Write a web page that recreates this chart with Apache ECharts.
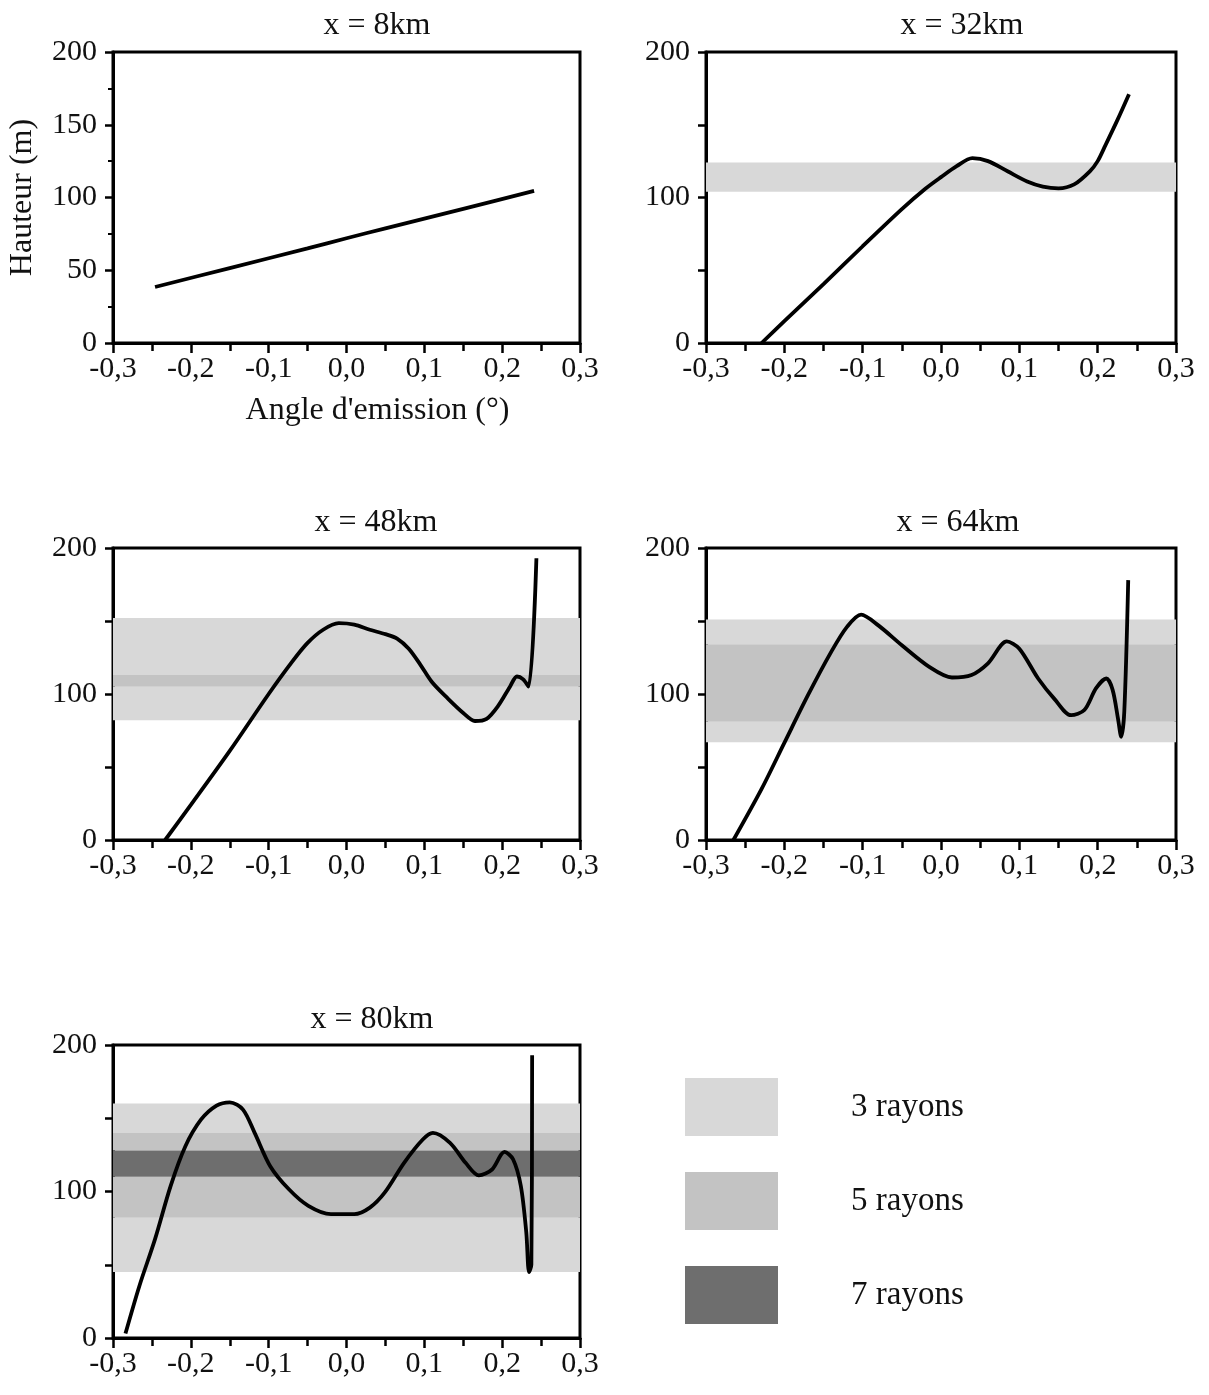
<!DOCTYPE html>
<html>
<head>
<meta charset="utf-8">
<script src="https://cdn.jsdelivr.net/npm/echarts@6/dist/echarts.min.js"></script>
<style>
html,body{margin:0;padding:0;background:#fff;}
#chart{width:1209px;height:1395px;}
</style>
</head>
<body>
<div id="chart"></div>
<script>
// ---- Data ----
const panelTitles = ['x = 8km', 'x = 32km', 'x = 48km', 'x = 64km', 'x = 80km'];
const xAxisName = "Angle d'emission (°)";
const yAxisName = 'Hauteur (m)';
const bandNames = ['3 rayons', '5 rayons', '7 rayons'];

// curves: [angle (°), height (m)]
const curve8km = [[-0.246,38.5],[-0.15,51.5],[-0.05,65],[0,72],[0.05,78.8],[0.15,92.2],[0.241,104.5]];
const curve32km = [[-0.229,0],[-0.2,15],[-0.15,40.5],[-0.1,66.5],[-0.05,92],[-0.02,106],[0,114],[0.02,121.5],[0.04,127],[0.06,125],[0.085,118],[0.11,111],[0.13,107.5],[0.15,106.3],[0.17,109],[0.19,118],[0.2,125],[0.21,136],[0.225,153],[0.24,171]];
const curve48km = [[-0.233,0],[-0.2,24],[-0.15,61],[-0.1,100],[-0.07,122],[-0.05,135],[-0.03,144],[-0.01,148.5],[0.01,147.5],[0.03,144],[0.05,141],[0.065,138],[0.08,131],[0.095,120],[0.11,108],[0.13,97],[0.15,87],[0.165,81.5],[0.18,83],[0.195,92],[0.21,105],[0.219,112],[0.227,110],[0.234,105],[0.244,193]];
const curve64km = [[-0.265,0],[-0.229,35],[-0.2,66.5],[-0.17,99],[-0.14,129],[-0.12,146],[-0.102,154.4],[-0.08,147],[-0.05,133.4],[-0.015,118.6],[0.014,111.3],[0.039,113],[0.06,121],[0.084,136],[0.1,131],[0.124,110.6],[0.145,96.5],[0.166,85.5],[0.183,89],[0.198,104],[0.211,110.6],[0.219,103],[0.226,83],[0.23,70.7],[0.234,88],[0.239,178]];
const curve80km = [[-0.284,3],[-0.266,35.7],[-0.246,67.5],[-0.226,103.7],[-0.207,130.9],[-0.187,149],[-0.167,158.6],[-0.15,160.9],[-0.133,155.9],[-0.118,140],[-0.098,117.3],[-0.074,101.5],[-0.049,90.2],[-0.02,84.5],[0.01,84.5],[0.03,89],[0.049,99.2],[0.074,119.6],[0.098,135.5],[0.111,140],[0.133,133.2],[0.153,119.6],[0.17,111],[0.187,115],[0.203,127],[0.214,122],[0.224,103.7],[0.231,72],[0.2345,45],[0.2375,50],[0.2385,193]];

// height bands [low, high] per panel, by number of rays
const bands3 = [[], [[104,124]], [[82,105],[113,152]], [[67,81],[134,151]], [[45,82],[140,160]]];
const bands5 = [[], [], [[105,113]], [[81,134]], [[82,110],[128,140]]];
const bands7 = [[], [], [], [], [[110,128]]];

// ---- Layout / styles ----
const curves = [curve8km, curve32km, curve48km, curve64km, curve80km];
const bandSets = [bands3, bands5, bands7];
const bandColors = ['#d8d8d8', '#c3c3c3', '#6e6e6e'];
const grids = [
  {left:113, top:52, width:467, height:291},
  {left:706, top:52, width:470, height:291},
  {left:113, top:548, width:467, height:292},
  {left:706, top:548, width:470, height:292},
  {left:113, top:1045, width:467, height:293}
];
const titlePos = [[372,5],[957,5],[371,502],[953,502],[367,999]];
const FONT = '"Liberation Serif", "Times New Roman", serif';

const fmtX = v => { if (Math.abs(v) < 1e-9) return '0,0'; return v.toFixed(1).replace('.', ','); };

const option = {
  animation: false,
  backgroundColor: '#fff',
  textStyle: {fontFamily: FONT, color: '#111'},
  title: panelTitles.map((t, i) => ({
    text: t, left: titlePos[i][0], top: titlePos[i][1], textAlign: 'center',
    textStyle: {fontFamily: FONT, fontSize: 32, fontWeight: 'normal', color: '#111'}
  })),
  legend: {
    left: 680, top: 1073, orient: 'vertical', icon: 'rect',
    itemWidth: 93, itemHeight: 58, itemGap: 36,
    data: bandNames,
    itemStyle: {borderWidth: 0},
    textStyle: {fontFamily: FONT, fontSize: 33, color: '#111', padding: [0,0,0,68]},
    selectedMode: false
  },
  grid: grids.map(g => Object.assign({show: true, borderColor: '#000', borderWidth: 3, backgroundColor: 'transparent'}, g)),
  xAxis: grids.map((g, i) => ({
    type: 'value', gridIndex: i, min: -0.3, max: 0.3, interval: 0.1,
    name: i === 0 ? xAxisName : '', nameLocation: 'middle', nameGap: 52,
    nameTextStyle: {fontFamily: FONT, fontSize: 32, color: '#111', padding: [0,0,0,62]},
    axisLine: {onZero: false, lineStyle: {color: '#000', width: 3}},
    axisTick: {show: true, inside: false, length: 10, lineStyle: {color: '#000', width: 2.5}},
    minorTick: {show: true, splitNumber: 2, length: 8, lineStyle: {color: '#000', width: 2.5}},
    splitLine: {show: false},
    axisLabel: {fontFamily: FONT, fontSize: 30, color: '#111', margin: 11, formatter: fmtX}
  })),
  yAxis: grids.map((g, i) => ({
    type: 'value', gridIndex: i, min: 0, max: 200, interval: 50,
    name: i === 0 ? yAxisName : '', nameLocation: 'middle', nameGap: 74, nameRotate: 90,
    nameTextStyle: {fontFamily: FONT, fontSize: 32, color: '#111'},
    axisLine: {onZero: false, lineStyle: {color: '#000', width: 3}},
    axisTick: {show: true, inside: false, length: 8, lineStyle: {color: '#000', width: 2.5}},
    minorTick: {show: i === 0, splitNumber: 2, length: 5, lineStyle: {color: '#000', width: 2}},
    splitLine: {show: false},
    axisLabel: {fontFamily: FONT, fontSize: 30, color: '#111', margin: 16,
      formatter: v => (i === 0 || v % 100 === 0) ? String(v) : ''}
  })),
  series: []
};

// band series (markArea), one per band type per panel
for (let p = 0; p < 5; p++) {
  bandSets.forEach((set, k) => {
    option.series.push({
      name: bandNames[k], type: 'line', xAxisIndex: p, yAxisIndex: p,
      data: [], z: 1, silent: true,
      itemStyle: {color: bandColors[k]},
      lineStyle: {color: bandColors[k]},
      markArea: {
        silent: true,
        itemStyle: {color: bandColors[k], opacity: 1},
        data: set[p].map(b => [{yAxis: b[0]}, {yAxis: b[1]}])
      }
    });
  });
}
// curves
curves.forEach((c, p) => {
  option.series.push({
    name: panelTitles[p], type: 'line', xAxisIndex: p, yAxisIndex: p,
    data: c, showSymbol: false, smooth: 0.3, z: 5, silent: true,
    lineStyle: {color: '#000', width: 3.8}
  });
});

const chart = echarts.init(document.getElementById('chart'), null, {renderer: 'canvas'});
chart.setOption(option);
</script>
</body>
</html>
